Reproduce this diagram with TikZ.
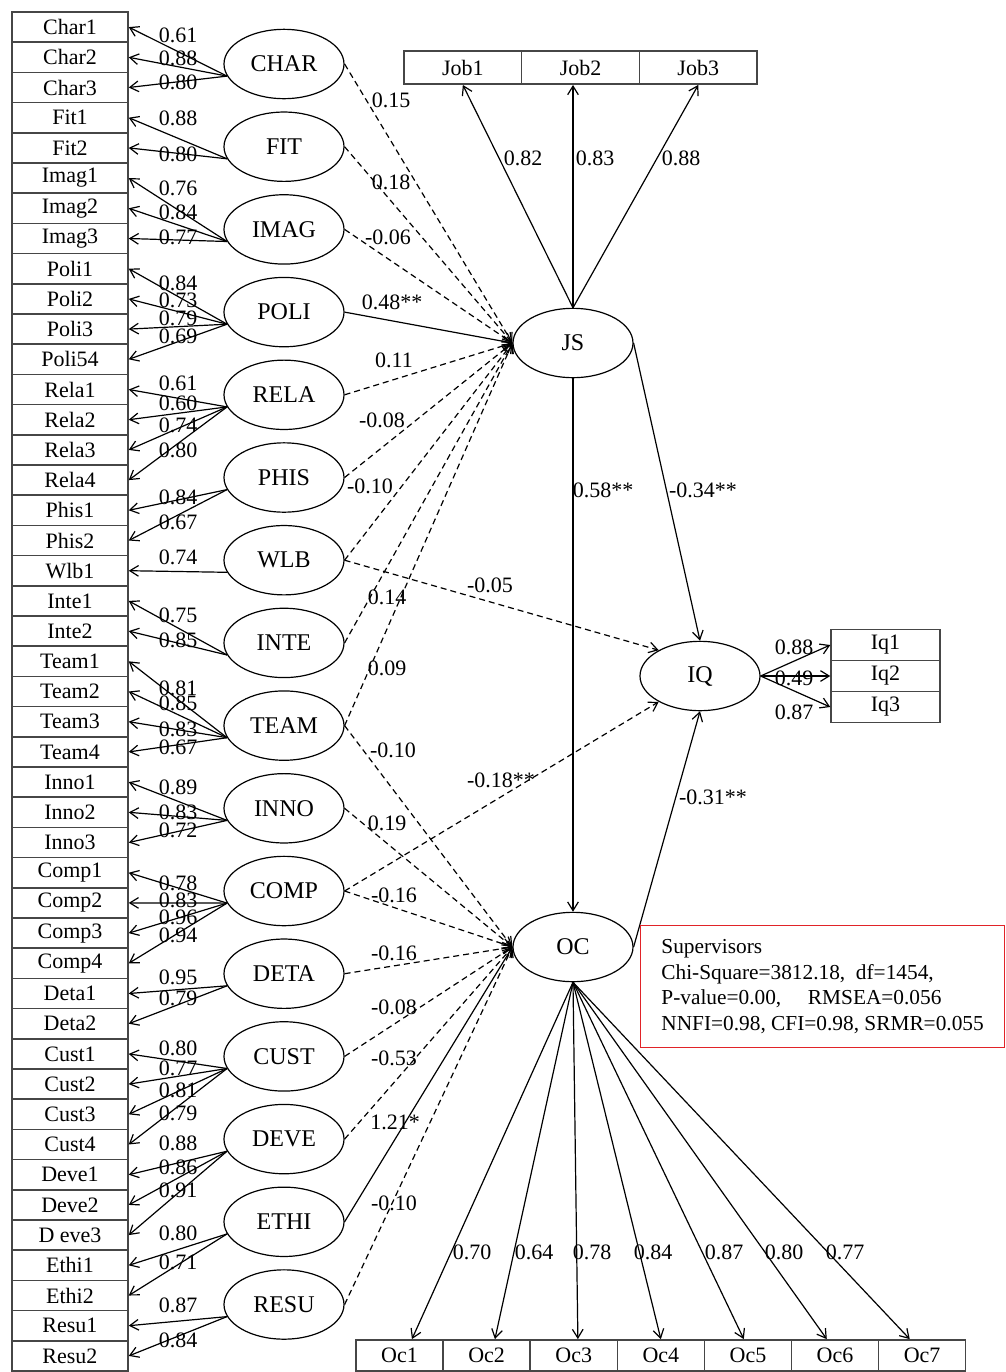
\documentclass[tikz,border=0pt]{standalone}
\usepackage{fontspec}
\setmainfont{Liberation Serif}
\usetikzlibrary{arrows.meta,shapes.geometric}

\begin{document}
\begin{tikzpicture}[
		x=0.75pt, y=-0.75pt,
		line width=0.9pt,
		muiten/.style={-{Straight Barb[length=6.5pt,width=8pt]}},
		duongdut/.style={muiten, dash pattern=on 4.5pt off 3pt},
		oquan/.style={draw=MauVien, line width=1.1pt, minimum width=87pt,
			minimum height=22.65pt, inner sep=0pt, font=\fontsize{16.5}{19}\selectfont},
		bienan/.style={draw, ellipse, minimum width=90pt, minimum height=52pt,
			inner sep=0pt, font=\fontsize{18}{21}\selectfont},
		heso/.style={inner sep=0pt, font=\fontsize{16.5}{19}\selectfont}
	]
	% ===== MÀU SẮC =====
	\definecolor{MauVien}{RGB}{70,70,70}
	\definecolor{MauDo}{RGB}{225,35,40}

	\useasboundingbox (0,0) rectangle (1006,1372);

	% ===== CÁC Ô QUAN SÁT =====
	\foreach \ten [count=\i from 0] in {Char1,Char2,Char3,Fit1,Fit2,Imag1,Imag2,Imag3,
		Poli1,Poli2,Poli3,Poli54,Rela1,Rela2,Rela3,Rela4,Phis1,Phis2,Wlb1,Inte1,Inte2,
		Team1,Team2,Team3,Team4,Inno1,Inno2,Inno3,Comp1,Comp2,Comp3,Comp4,Deta1,Deta2,
		Cust1,Cust2,Cust3,Cust4,Deve1,Deve2,D eve3,Ethi1,Ethi2,Resu1,Resu2}
		\node[oquan] (x\i) at (70,27.1+30.2*\i) {\ten};

	% ===== BIẾN TIỀM ẨN =====
	\foreach \ten [count=\k from 0] in {CHAR,FIT,IMAG,POLI,RELA,PHIS,WLB,INTE,
		TEAM,INNO,COMP,DETA,CUST,DEVE,ETHI,RESU}
		\node[bienan] (\ten) at (284,64+82.7*\k) {\ten};

	\node[bienan] (JS) at (573,343) {JS};
	\node[bienan] (IQ) at (700,676) {IQ};
	\node[bienan] (OC) at (573,947) {OC};

	% ===== HỆ SỐ TẢI =====
	\foreach \f/\i/\v/\ly in {CHAR/0/0.61/35, CHAR/1/0.88/58, CHAR/2/0.80/82,
		FIT/3/0.88/118, FIT/4/0.80/154, IMAG/5/0.76/188, IMAG/6/0.84/212, IMAG/7/0.77/237,
		POLI/8/0.84/283, POLI/9/0.73/300, POLI/10/0.79/318, POLI/11/0.69/336,
		RELA/12/0.61/383, RELA/13/0.60/403, RELA/14/0.74/425, RELA/15/0.80/450,
		PHIS/16/0.84/497, PHIS/17/0.67/522, WLB/18/0.74/557, INTE/19/0.75/615,
		INTE/20/0.85/640, TEAM/21/0.81/688, TEAM/22/0.85/703, TEAM/23/0.83/729,
		TEAM/24/0.67/747, INNO/25/0.89/787, INNO/26/0.83/812, INNO/27/0.72/830,
		COMP/28/0.78/883, COMP/29/0.83/900, COMP/30/0.96/917, COMP/31/0.94/935,
		DETA/32/0.95/977, DETA/33/0.79/998, CUST/34/0.80/1048, CUST/35/0.77/1068,
		CUST/36/0.81/1090, CUST/37/0.79/1113, DEVE/38/0.88/1143, DEVE/39/0.86/1167,
		DEVE/40/0.91/1190, ETHI/41/0.80/1233, ETHI/42/0.71/1262, RESU/43/0.87/1305,
		RESU/44/0.84/1340}
	{
		\draw[muiten] (\f.192) -- (x\i.east);
		\node[heso] (t\i) at (178,\ly) {\v};
	}

	% ===== JS, IQ, OC =====
	\foreach \k/\v/\lx in {1/0.82/523, 2/0.83/595, 3/0.88/681}
	{
		\node[oquan, minimum width=88.3pt, minimum height=24.75pt]
			(Job\k) at (404+117.7*\k-58.85,67.7) {Job\k};
		\node[heso] (tj\k) at (\lx,158) {\v};
	}
	\draw[muiten] (JS.north) -- (Job1.south);
	\draw[muiten] (JS.north) -- (JS.north |- Job2.south);
	\draw[muiten] (JS.north) -- (Job3.south);

	\foreach \k/\v/\ly in {1/0.88/647, 2/0.49/678, 3/0.87/712}
	{
		\node[oquan, minimum width=81.75pt, minimum height=23.25pt]
			(Iq\k) at (885.5,614+31*\k) {Iq\k};
		\draw[muiten] (IQ.east) -- (Iq\k.west);
		\node[heso] (tq\k) at (794,\ly) {\v};
	}

	\foreach \k/\v/\lx in {1/0.70/472, 2/0.64/534, 3/0.78/592, 4/0.84/653,
		5/0.87/724, 6/0.80/784, 7/0.77/845}
	{
		\node[oquan, minimum width=65.3pt, minimum height=23.5pt]
			(Oc\k) at (356+87.1*\k-43.55,1355.5) {Oc\k};
		\draw[muiten] (OC.south) -- ([xshift={-(\k-4)*3.1pt}]Oc\k.north);
		\node[heso] (to\k) at (\lx,1252) {\v};
	}

	\draw[muiten] (JS.south) -- (OC.north)
		node[heso] at (603,490) {0.58**};
	\draw[muiten] (JS.east) -- (IQ.north)
		node[heso] at (703,490) {-0.34**};
	\draw[muiten] (OC.east) -- (IQ.south)
		node[heso] at (713,797) {-0.31**};

	% ===== ĐƯỜNG DẪN =====
	\foreach \a/\b/\kieu/\v/\lx/\ly [count=\n] in {CHAR/JS/duongdut/0.15/391/100,
		FIT/JS/duongdut/0.18/391/182, IMAG/JS/duongdut/-0.06/388/237,
		POLI/JS/muiten/0.48**/392/302, RELA/JS/duongdut/0.11/394/360,
		PHIS/JS/duongdut/-0.08/382/420, WLB/JS/duongdut/-0.10/370/486,
		INTE/JS/duongdut/0.14/387/597, TEAM/JS/duongdut/0.09/387/668,
		TEAM/OC/duongdut/-0.10/393/750, INNO/OC/duongdut/0.19/387/823,
		COMP/OC/duongdut/-0.16/394/895, DETA/OC/duongdut/-0.16/394/953,
		CUST/OC/duongdut/-0.08/394/1007, DEVE/OC/duongdut/-0.53/394/1058,
		ETHI/OC/muiten/1.21*/395/1122, RESU/OC/duongdut/-0.10/394/1203}
	{
		\draw[\kieu] (\a.east) -- (\b.west);
		\node[heso] (td\n) at (\lx,\ly) {\v};
	}

	\draw[duongdut] (WLB.east) -- (IQ.148)
		node[heso] at (490,585) {-0.05};
	\draw[duongdut] (COMP.east) -- (IQ.212)
		node[heso] at (501,780) {-0.18**};

	% ===== CHỈ SỐ PHÙ HỢP =====
	\node[draw=MauDo, line width=0.9pt, anchor=north west, minimum width=273pt,
		minimum height=91.5pt, inner xsep=10pt, align=left,
		font=\fontsize{16}{19.3}\selectfont] (chiso) at (640,925)
		{Supervisors\\
		Chi-Square=3812.18,\ \ df=1454,\\
		P-value=0.00,\quad\ RMSEA=0.056\\
		NNFI=0.98, CFI=0.98, SRMR=0.055};

\end{tikzpicture}
\end{document}
